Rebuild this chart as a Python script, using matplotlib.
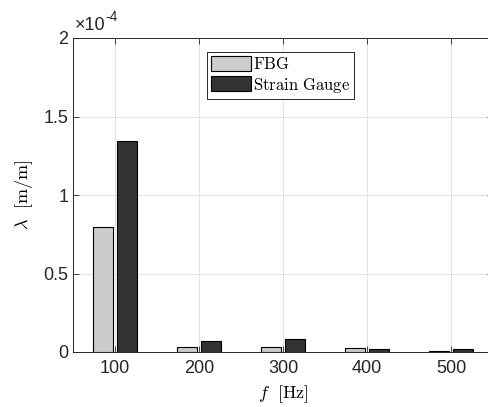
import numpy as np
import matplotlib.pyplot as plt
from matplotlib.ticker import FuncFormatter

plt.rcParams['mathtext.fontset'] = 'cm'
plt.rcParams['font.family'] = ['Liberation Sans', 'DejaVu Sans']

freqs = ['100', '200', '300', '400', '500']
fbg = [0.796e-4, 0.030e-4, 0.032e-4, 0.026e-4, 0.008e-4]
strain_gauge = [1.344e-4, 0.070e-4, 0.085e-4, 0.021e-4, 0.020e-4]

x = np.arange(1, len(freqs) + 1)
w = 0.235
off = 0.14

fig = plt.figure(figsize=(4.88, 4.07), dpi=100)
ax = fig.add_axes([73 / 488, 1 - 352 / 407, (493 - 73) / 488, (352 - 38) / 407])

ax.bar(x - off, fbg, w, color='#cccccc', edgecolor='black', linewidth=0.8, label=r'$\mathrm{FBG}$', zorder=3)
ax.bar(x + off, strain_gauge, w, color='#333333', edgecolor='black', linewidth=0.8, label=r'$\mathrm{Strain\ Gauge}$', zorder=3)

ax.set_xlim(0.5, 5.5)
ax.set_ylim(0, 2e-4)
ax.set_xticks(x)
ax.set_xticklabels(freqs)
ax.set_yticks([0, 0.5e-4, 1e-4, 1.5e-4, 2e-4])
ax.yaxis.set_major_formatter(FuncFormatter(lambda v, _: f'{v / 1e-4:g}'))
ax.tick_params(labelsize=13, colors='#262626', direction='in', length=4, top=True, right=True, width=0.6)
ax.tick_params(axis='x', pad=6)
ax.grid(True, color='#e3e3e3', linewidth=0.7, zorder=0)
for s in ax.spines.values():
    s.set_color('#262626')
    s.set_linewidth(0.7)

# exponent label like MATLAB
ax.text(0.005, 1.012, '\u00d710', transform=ax.transAxes, fontsize=13, color='#262626', ha='left', va='bottom')
ax.text(0.078, 1.045, '-4', transform=ax.transAxes, fontsize=10, color='#262626', ha='left', va='bottom')

ax.set_xlabel(r'$f\ \ [\mathrm{Hz}]$', fontsize=13, labelpad=4)
ax.set_ylabel(r'$\lambda\ \ [\mathrm{m/m}]$', fontsize=13, labelpad=6)

leg = ax.legend(loc='upper left', bbox_to_anchor=(207 / 488, 1 - 52 / 407), bbox_transform=fig.transFigure,
                fontsize=12, fancybox=False, edgecolor='#262626', framealpha=1, borderpad=0.25,
                handlelength=2.4, handleheight=1.0, handletextpad=0.1, labelspacing=0.2, borderaxespad=0)
leg.get_frame().set_linewidth(0.7)

fig.savefig('out.png', dpi=100)
